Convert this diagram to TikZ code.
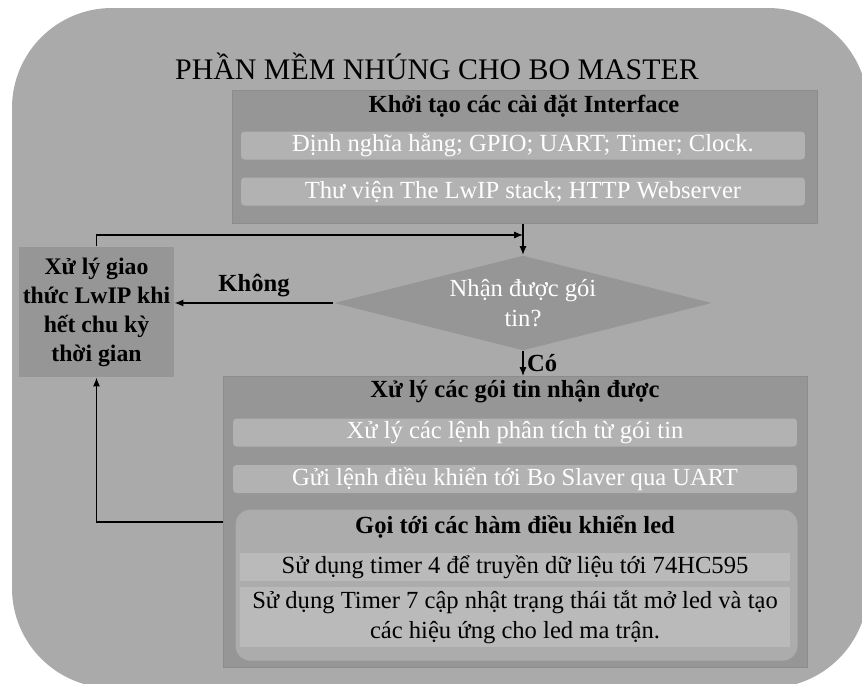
\documentclass[tikz,border=0pt]{standalone}
\usepackage{fontspec}
\setmainfont{Liberation Serif}
\usetikzlibrary{shapes.geometric,arrows.meta}
\definecolor{bggray}{RGB}{170,170,170}
\definecolor{panelgray}{RGB}{150,150,150}
\definecolor{edgegray}{RGB}{140,140,140}
\definecolor{rowgray}{RGB}{178,178,178}
\definecolor{ledgray}{RGB}{172,172,172}
\definecolor{ledrowgray}{RGB}{186,186,186}
\newcommand{\txt}{\fontsize{14}{17}\selectfont}

\begin{document}
\begin{tikzpicture}[x=0.02cm,y=-0.02cm,line width=0.7pt,>={Latex[length=5pt,width=4pt]},
    panel/.style={fill=panelgray,draw=edgegray,anchor=north west,inner sep=0pt},
    head/.style={font=\txt\bfseries},
    row/.style={fill=rowgray,text=white,rounded corners=2pt,inner sep=0pt,
      minimum width=11.28cm,minimum height=0.56cm,font=\txt},
    ledrow/.style={fill=ledrowgray,text=black,inner sep=0pt,align=center,
      minimum width=11.0cm,font=\txt}]
    \useasboundingbox (0,0) rectangle (862,683);
    \fill[bggray,rounded corners=2cm] (12,8) rectangle (868,688);

    \node[font=\fontsize{17}{20}\selectfont] (title) at (437,66) {PHẦN MỀM NHÚNG CHO BO MASTER};

    % khoi tao
    \node[panel,minimum width=11.7cm,minimum height=2.66cm] (init) at (232,90) {};
    \node[head] (inithead) at (524,106) {Khởi tạo các cài đặt Interface};
    \node[row] (def) at (523,145.5) {Định nghĩa hằng; GPIO; UART; Timer; Clock.};
    \node[row] (lib) at (523,191.5) {Thư viện The LwIP stack; HTTP Webserver};

    % quyet dinh
    \node[diamond,aspect=4,fill=panelgray,text=white,inner sep=0pt,align=center,font=\txt,
      minimum width=7.56cm,minimum height=1.9cm] (recv) at (523,303) {Nhận được gói\\tin?};
    \node[fill=panelgray,inner sep=0pt,align=center,font=\fontsize{13.5}{16.5}\selectfont\bfseries,
      minimum width=3.1cm,minimum height=2.6cm] (proto) at (96.5,312)
      {Xử lý giao\\thức LwIP khi\\hết chu kỳ\\thời gian};

    % xu ly goi tin
    \node[panel,minimum width=11.68cm,minimum height=5.82cm] (proc) at (223,376) {};
    \node[head] (prochead) at (515,392) {Xử lý các gói tin nhận được};
    \node[row] (parse) at (515,432.5) {Xử lý các lệnh phân tích từ gói tin};
    \node[row] (send) at (515,479) {Gửi lệnh điều khiển tới Bo Slaver qua UART};
    \node[fill=ledgray,rounded corners=0.3cm,anchor=north west,inner sep=0pt,
      minimum width=11.24cm,minimum height=3.02cm] (led) at (235,509) {};
    \node[head] (ledhead) at (515,527) {Gọi tới các hàm điều khiển led};
    \node[ledrow,minimum height=0.56cm] (tim4) at (515,567) {Sử dụng timer 4 để truyền dữ liệu tới 74HC595};
    \node[ledrow,minimum height=1.2cm] (tim7) at (515,617)
      {Sử dụng Timer 7 cập nhật trạng thái tắt mở led và tạo\\các hiệu ứng cho led ma trận.};

    % mui ten
    \coordinate (join) at (523,235);
    \coordinate (back) at (223,522);
    \draw[->] (init.south -| recv.north) -- (recv.north);
    \draw[->] (proto.north) |- (join);
    \draw[->] (recv.west) -- (recv.west -| proto.east) node[midway,above,head] {Không};
    \draw[->] (recv.south) -- (recv.south |- proc.north) node[midway,right,head,inner sep=2pt] {Có};
    \draw[->] (back) -| (proto.south);
\end{tikzpicture}
\end{document}
